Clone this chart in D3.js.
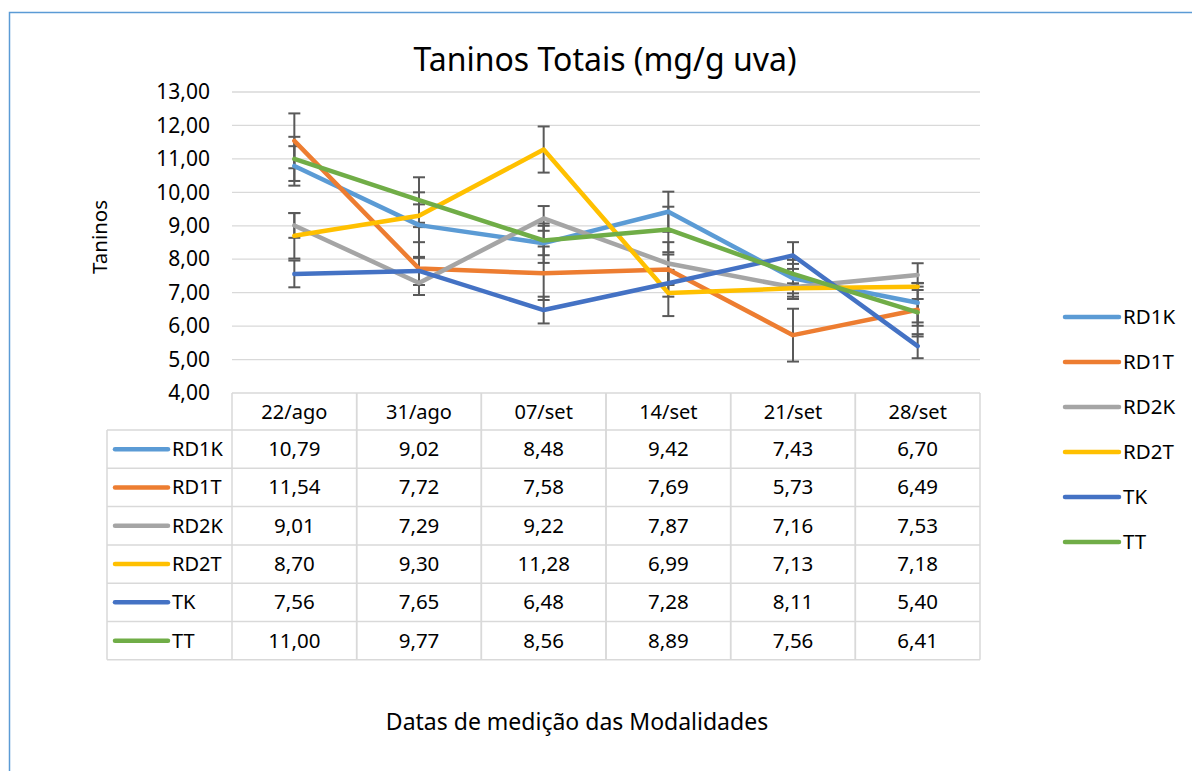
<!DOCTYPE html>
<html>
<head>
<meta charset="utf-8">
<script src="https://cdn.jsdelivr.net/npm/d3@7"></script>
<style>
  body { margin: 0; background: #fff; }
  svg { display: block; font-family: "Noto Sans", sans-serif; }
</style>
</head>
<body>
<div id="chart"></div>
<script>
const width = 1192;
const height = 771;

const categories = ["22/ago", "31/ago", "07/set", "14/set", "21/set", "28/set"];
const seriesNames = ["RD1K", "RD1T", "RD2K", "RD2T", "TK", "TT"];
const seriesColors = ["#5B9BD5", "#ED7D31", "#A5A5A5", "#FFC000", "#4472C4", "#70AD47"];

const rd1k = [10.79, 9.02, 8.48, 9.42, 7.43, 6.70];
const rd1t = [11.54, 7.72, 7.58, 7.69, 5.73, 6.49];
const rd2k = [9.01, 7.29, 9.22, 7.87, 7.16, 7.53];
const rd2t = [8.70, 9.30, 11.28, 6.99, 7.13, 7.18];
const tk = [7.56, 7.65, 6.48, 7.28, 8.11, 5.40];
const tt = [11.00, 9.77, 8.56, 8.89, 7.56, 6.41];

// error bar half-widths
const rd1kErr = [0.59, 0.98, 0.59, 0.60, 0.55, 0.59];
const rd1tErr = [0.82, 0.79, 0.80, 0.45, 0.79, 0.80];
const rd2kErr = [0.37, 0.36, 0.37, 0.64, 0.35, 0.35];
const rd2tErr = [0.68, 0.34, 0.69, 0.69, 0.15, 0.10];
const tkErr = [0.40, 0.42, 0.40, 0.40, 0.40, 0.36];
const ttErr = [0.66, 0.68, 0.44, 0.68, 0.30, 0.40];

const yTicks = [4, 5, 6, 7, 8, 9, 10, 11, 12, 13];

const values = [rd1k, rd1t, rd2k, rd2t, tk, tt];
const errors = [rd1kErr, rd1tErr, rd2kErr, rd2tErr, tkErr, ttErr];
const series = seriesNames.map((name, i) => ({
  name,
  color: seriesColors[i],
  points: categories.map((c, j) => ({ cat: c, v: values[i][j], e: errors[i][j] })),
}));

const fmt = (v) => d3.format(".2f")(v).replace(".", ",");

const plotLeft = 232;
const plotRight = 980;
const plotTop = 92;
const plotBottom = 393;

const xScale = d3.scaleBand().domain(categories).range([plotLeft, plotRight]);
const xc = (c) => xScale(c) + xScale.bandwidth() / 2;
const yScale = d3.scaleLinear().domain([4, 13]).range([plotBottom, plotTop]);

const svg = d3
  .select("#chart")
  .append("svg")
  .attr("width", width)
  .attr("height", height);

// outer frame
svg
  .append("rect")
  .attr("x", 9.5)
  .attr("y", 12.5)
  .attr("width", 1300)
  .attr("height", 900)
  .attr("fill", "none")
  .attr("stroke", "#5B9BD5")
  .attr("stroke-width", 1.5);

// title
svg
  .append("text")
  .attr("x", 605)
  .attr("y", 71)
  .attr("text-anchor", "middle")
  .attr("font-size", 32)
  .attr("fill", "#000")
  .text("Taninos Totais (mg/g uva)");

// gridlines
svg
  .append("g")
  .selectAll("line")
  .data(yTicks.filter((t) => t > 4))
  .enter()
  .append("line")
  .attr("x1", plotLeft)
  .attr("x2", plotRight)
  .attr("y1", (d) => yScale(d))
  .attr("y2", (d) => yScale(d))
  .attr("stroke", "#D9D9D9")
  .attr("stroke-width", 1.3);

// y axis labels
const yAxis = d3
  .axisLeft(yScale)
  .tickValues(yTicks)
  .tickFormat(fmt)
  .tickSize(0)
  .tickPadding(22);

const yG = svg
  .append("g")
  .attr("transform", `translate(${plotLeft}, 0)`)
  .call(yAxis);
yG.select(".domain").remove();
yG.selectAll("text")
  .attr("font-size", 21)
  .attr("font-family", "Noto Sans, sans-serif")
  .attr("fill", "#000");

svg
  .append("text")
  .attr("transform", "rotate(-90)")
  .attr("x", -237)
  .attr("y", 107)
  .attr("text-anchor", "middle")
  .attr("font-size", 20.5)
  .text("Taninos");

// error bars
const errG = svg.append("g");
series.forEach((s) => {
  s.points.forEach((p) => {
    const x = xc(p.cat);
    const y1 = yScale(p.v + p.e);
    const y2 = yScale(p.v - p.e);
    errG
      .append("line")
      .attr("x1", x)
      .attr("x2", x)
      .attr("y1", y1)
      .attr("y2", y2)
      .attr("stroke", "#595959")
      .attr("stroke-width", 2);
    [y1, y2].forEach((y) => {
      errG
        .append("line")
        .attr("x1", x - 6)
        .attr("x2", x + 6)
        .attr("y1", y)
        .attr("y2", y)
        .attr("stroke", "#595959")
        .attr("stroke-width", 2);
    });
  });
});

// lines
const line = d3
  .line()
  .x((d) => xc(d.cat))
  .y((d) => yScale(d.v));

svg
  .append("g")
  .selectAll("path")
  .data(series)
  .enter()
  .append("path")
  .attr("d", (d) => line(d.points))
  .attr("fill", "none")
  .attr("stroke", (d) => d.color)
  .attr("stroke-width", 4.5)
  .attr("stroke-linecap", "round")
  .attr("stroke-linejoin", "round");

// data table
const tableLeft = 107;
const headerTop = plotBottom;
const headerH = 37;
const rowH = 38.3;
const rowsTop = headerTop + headerH;
const tableBottom = rowsTop + rowH * seriesNames.length;
const tableG = svg.append("g");
const gridColor = "#D9D9D9";

// horizontal rules
tableG
  .append("line")
  .attr("x1", plotLeft)
  .attr("x2", plotRight)
  .attr("y1", headerTop)
  .attr("y2", headerTop)
  .attr("stroke", gridColor)
  .attr("stroke-width", 1.5);

d3.range(seriesNames.length + 1).forEach((i) => {
  const y = rowsTop + i * rowH;
  tableG
    .append("line")
    .attr("x1", tableLeft)
    .attr("x2", plotRight)
    .attr("y1", y)
    .attr("y2", y)
    .attr("stroke", gridColor)
    .attr("stroke-width", 1.5);
});

// vertical rules
tableG
  .append("line")
  .attr("x1", tableLeft)
  .attr("x2", tableLeft)
  .attr("y1", rowsTop)
  .attr("y2", tableBottom)
  .attr("stroke", gridColor)
  .attr("stroke-width", 1.5);

categories.forEach((c) => {
  [xScale(c), xScale(c) + xScale.bandwidth()].forEach((x) => {
    tableG
      .append("line")
      .attr("x1", x)
      .attr("x2", x)
      .attr("y1", headerTop)
      .attr("y2", tableBottom)
      .attr("stroke", gridColor)
      .attr("stroke-width", 1.5);
  });
});

// header labels
tableG
  .selectAll("text.hdr")
  .data(categories)
  .enter()
  .append("text")
  .attr("class", "hdr")
  .attr("x", (d) => xc(d))
  .attr("y", headerTop + headerH / 2 + 7)
  .attr("text-anchor", "middle")
  .attr("font-size", 20)
  .text((d) => d);

series.forEach((s, i) => {
  const cy = rowsTop + i * rowH + rowH / 2;
  tableG
    .append("line")
    .attr("x1", 115)
    .attr("x2", 168)
    .attr("y1", cy)
    .attr("y2", cy)
    .attr("stroke", s.color)
    .attr("stroke-width", 4.5)
    .attr("stroke-linecap", "round");
  tableG
    .append("text")
    .attr("x", 172)
    .attr("y", cy + 7)
    .attr("font-size", 20)
    .text(s.name);
  s.points.forEach((p) => {
    tableG
      .append("text")
      .attr("x", xc(p.cat))
      .attr("y", cy + 7)
      .attr("text-anchor", "middle")
      .attr("font-size", 20.5)
      .text(fmt(p.v));
  });
});

// x axis title
svg
  .append("text")
  .attr("x", 577)
  .attr("y", 730)
  .attr("text-anchor", "middle")
  .attr("font-size", 23)
  .text("Datas de medição das Modalidades");

// legend
const legendTop = 317;
const legendStep = 45;
const legend = svg
  .append("g")
  .selectAll("g")
  .data(series)
  .enter()
  .append("g")
  .attr("transform", (d, i) => `translate(1063, ${legendTop + i * legendStep})`);

legend
  .append("line")
  .attr("x1", 2)
  .attr("x2", 56)
  .attr("stroke", (d) => d.color)
  .attr("stroke-width", 4.5)
  .attr("stroke-linecap", "round");

legend
  .append("text")
  .attr("x", 60)
  .attr("y", 7)
  .attr("font-size", 20.5)
  .text((d) => d.name);
</script>
</body>
</html>
